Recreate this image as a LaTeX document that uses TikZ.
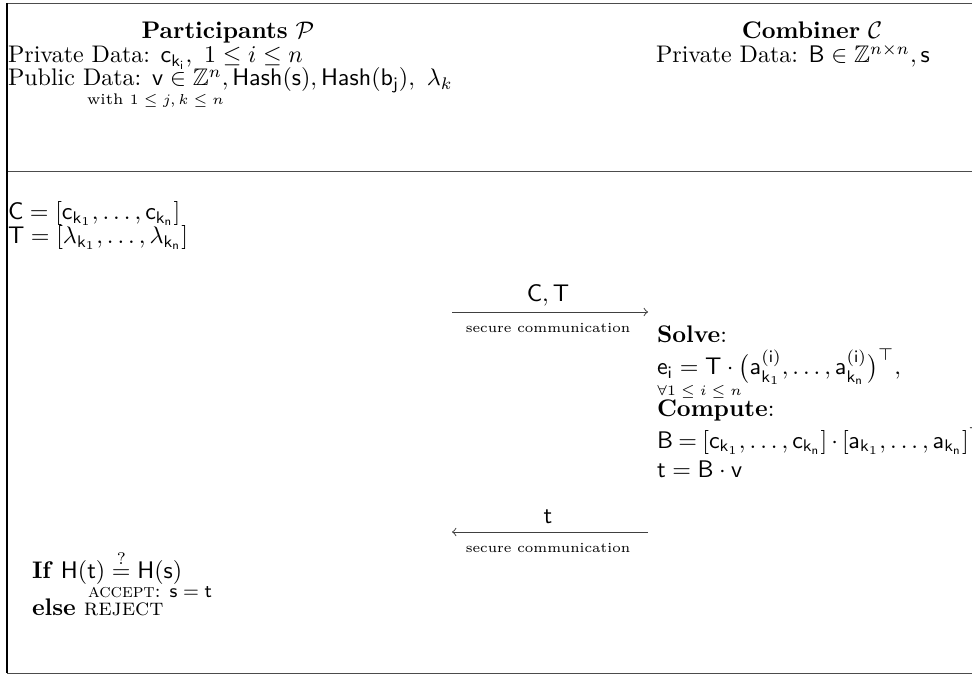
\documentclass[tikz,border=0pt]{standalone}
\usepackage{amsmath,amssymb}
\begin{document}
\begin{tikzpicture}[x=0.41667pt,y=-0.41667pt,
  txt/.style={inner sep=0pt,outer sep=0pt,anchor=base west},
  ctxt/.style={inner sep=0pt,outer sep=0pt,anchor=base},
  tiny/.style={font=\fontsize{6.4}{8}\selectfont},
  comm/.style={font=\fontsize{5.8}{7}\selectfont},
  small/.style={font=\footnotesize},
  frame/.style={line width=0.4pt,draw=black!70},
  msg/.style={line width=0.4pt,draw=black!75,-to}]
\useasboundingbox (0,0) rectangle (972,675);
% frame
\coordinate (tl) at (7,3);
\coordinate (tr) at (972,3);
\coordinate (ml) at (7,171);
\coordinate (mr) at (972,171);
\coordinate (bl) at (7,673);
\coordinate (br) at (972,673);
\draw[frame] (tl) -- (tr);
\draw[frame] (ml) -- (mr);
\draw[frame] (bl) -- (br);
\draw[line width=0.8pt] (tl) -- (bl);
% header
\node[ctxt] (pT) at (228,39) {\textbf{Participants} $\mathcal{P}$};
\node[txt] (pPriv) at (8,63) {Private Data: $\mathsf{c}_{\mathsf{k}_\mathsf{i}},\ 1\le i\le n$};
\node[txt] (pPub) at (8,86) {Public Data: $\mathsf{v}\in\mathbb{Z}^n, \mathsf{Hash}(\mathsf{s}), \mathsf{Hash}(\mathsf{b}_\mathsf{j}),\ \lambda_k$};
\node[txt,tiny] (pWith) at (87,105) {with $1\le j,k\le n$};
\node[ctxt] (cT) at (812,39) {\textbf{Combiner} $\mathcal{C}$};
\node[txt] (cPriv) at (656,63) {Private Data: $\mathsf{B}\in\mathbb{Z}^{n\times n},\mathsf{s}$};
% participants compute
\node[txt] (cC) at (8,220) {$\mathsf{C}=[\mathsf{c}_{\mathsf{k}_1},\ldots,\mathsf{c}_{\mathsf{k}_\mathsf{n}}]$};
\node[txt] (cTT) at (8,244) {$\mathsf{T}=[\lambda_{\mathsf{k}_1},\ldots,\lambda_{\mathsf{k}_\mathsf{n}}]$};
% message 1
\coordinate (m1a) at (452,312);
\coordinate (m1b) at (648,312);
\draw[msg] (m1a) -- (m1b);
\node[ctxt] (m1l) at (548,302) {$\mathsf{C},\mathsf{T}$};
\node[ctxt,comm] (m1s) at (548,333) {secure communication};
% combiner
\node[txt] (s1) at (657,343) {\textbf{Solve}:};
\node[txt] (s2) at (657,375) {$\mathsf{e}_\mathsf{i}=\mathsf{T}\cdot\bigl(\mathsf{a}^{(\mathsf{i})}_{\mathsf{k}_1},\ldots,\mathsf{a}^{(\mathsf{i})}_{\mathsf{k}_\mathsf{n}}\bigr)^\top,$};
\node[txt,tiny] (s3) at (657,395) {$\forall 1\le i\le n$};
\node[txt] (s4) at (657,417) {\textbf{Compute}:};
\node[txt] (s5) at (657,448) {\thickmuskip=4mu\medmuskip=3mu$\mathsf{B}=[\mathsf{c}_{\mathsf{k}_1},\ldots,\mathsf{c}_{\mathsf{k}_\mathsf{n}}]\cdot[\mathsf{a}_{\mathsf{k}_1},\ldots,\mathsf{a}_{\mathsf{k}_\mathsf{n}}]^\top$};
\node[txt] (s6) at (657,477) {$\mathsf{t}=\mathsf{B}\cdot\mathsf{v}$};
% message 2
\coordinate (m2a) at (648,532);
\coordinate (m2b) at (452,532);
\draw[msg] (m2a) -- (m2b);
\node[ctxt] (m2l) at (548,523) {$\mathsf{t}$};
\node[ctxt,comm] (m2s) at (548,552) {secure communication};
% verification
\node[txt] (v1) at (32,578) {\textbf{If} $\mathsf{H}(\mathsf{t})\stackrel{?}{=}\mathsf{H}(\mathsf{s})$};
\node[txt,small] (v2) at (88,597) {\textsc{accept}: $\mathsf{s}=\mathsf{t}$};
\node[txt] (v3) at (32,615) {\textbf{else} \textsc{reject}};
\end{tikzpicture}
\end{document}
